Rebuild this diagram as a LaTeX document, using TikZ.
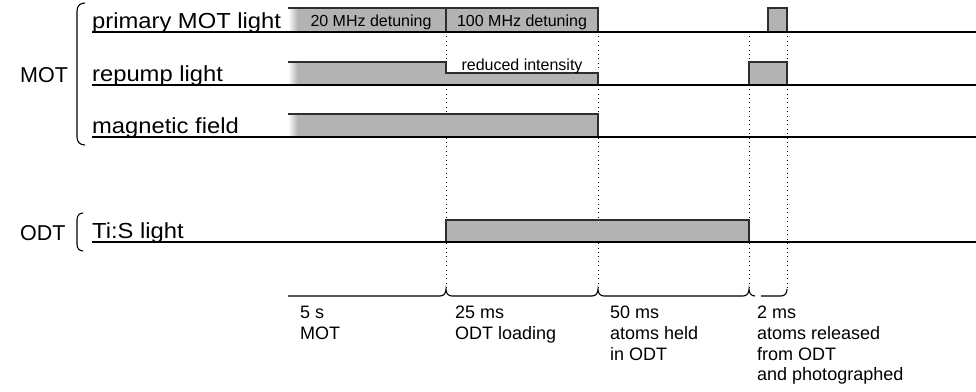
\documentclass[tikz,border=0pt]{standalone}
\usepackage{fontspec}
\setmainfont{Liberation Sans}
\newfontfamily\lblfont[FakeStretch=1.09]{Liberation Sans}
\definecolor{boxgray}{RGB}{179,179,179}
\definecolor{edgegray}{RGB}{45,45,45}
\begin{document}
\begin{tikzpicture}[x=1pt,y=-1pt,
  lbl/.style={font=\lblfont\fontsize{21.8}{26}\selectfont, anchor=base west, inner sep=0pt},
  grp/.style={font=\fontsize{21.5}{25}\selectfont, anchor=base west, inner sep=0pt},
  intxt/.style={font=\fontsize{16}{19}\selectfont, anchor=base, inner sep=0pt},
  bt/.style={font=\fontsize{18}{21}\selectfont, anchor=base west, inner sep=0pt},
  dotline/.style={line width=0.8pt, dash pattern=on 0.8pt off 3.6pt},
  boxedge/.style={draw=edgegray, line width=1.4pt},
  baseln/.style={line width=1.2pt, black},
  bracel/.style={line width=1.1pt, black}]
\useasboundingbox (0,0) rectangle (976,391);

% dotted time markers
\coordinate (d1t) at (446,32); \coordinate (d1b) at (446,289);
\coordinate (d2t) at (598,32); \coordinate (d2b) at (598,289);
\coordinate (d3t) at (749,32); \coordinate (d3b) at (749,289);
\coordinate (d4t) at (787,32); \coordinate (d4b) at (787,289);
\draw[dotline] (d1t) -- (d1b);
\draw[dotline] (d2t) -- (d2b);
\draw[dotline] (d3t) -- (d3b);
\draw[dotline] (d4t) -- (d4b);

% primary MOT light
\fill[boxgray] (297,8) rectangle (598,32);
\shade[left color=white, right color=boxgray] (288,8) rectangle (297.5,32);
\draw[boxedge] (288,8) -- (598,8) -- (598,32);
\draw[boxedge] (446,8) -- (446,32);
\filldraw[boxgray, boxedge] (768,32) -- (768,8) -- (787,8) -- (787,32);

% repump light
\fill[boxgray] (297,62) rectangle (446,85);
\fill[boxgray] (446,73) rectangle (598,85);
\shade[left color=white, right color=boxgray] (288,62) rectangle (297.5,85);
\draw[boxedge] (288,62) -- (446,62) -- (446,73) -- (598,73) -- (598,85);
\filldraw[boxgray, boxedge] (749,85) -- (749,62) -- (787,62) -- (787,85);

% magnetic field
\fill[boxgray] (297,114) rectangle (598,137);
\shade[left color=white, right color=boxgray] (288,114) rectangle (297.5,137);
\draw[boxedge] (288,114) -- (598,114) -- (598,137);

% Ti:S light
\filldraw[boxgray, boxedge] (446,242) -- (446,220) -- (749,220) -- (749,242);

% base lines
\draw[baseln] (92,32) -- (976,32);
\draw[baseln] (92,85) -- (976,85);
\draw[baseln] (92,137) -- (976,137);
\draw[baseln] (92,242) -- (976,242);

% texts in boxes
\node[intxt] (det20) at (371,26.5) {20 MHz detuning};
\node[intxt] (det100) at (522,26.5) {100 MHz detuning};
\node[intxt] (redint) at (522,70) {reduced intensity};

% channel labels
\node[lbl] (pml) at (92,28.3) {primary MOT light};
\node[lbl] (rpl) at (92,81.3) {repump light};
\node[lbl] (mfl) at (92,133.3) {magnetic field};
\node[lbl] (tsl) at (92,238.3) {Ti:S light};

% group labels and brackets
\node[grp] (motg) at (20,82.5) {MOT};
\node[grp] (odtg) at (20,240) {ODT};
\draw[bracel] (85,3) .. controls (80,3) and (77,6) .. (77,11) -- (77,137) .. controls (77,142) and (80,145) .. (85,145);
\draw[bracel] (83,213) .. controls (79,213) and (77,216) .. (77,220) -- (77,244) .. controls (77,248) and (79,251) .. (83,251);

% time braces
\draw[bracel] (288,296) -- (440,296) .. controls (444,296) and (446,293) .. (d1b)
  .. controls (446,293) and (448,296) .. (452,296) -- (592,296)
  .. controls (596,296) and (598,293) .. (d2b)
  .. controls (598,293) and (600,296) .. (604,296) -- (743,296)
  .. controls (747,296) and (749,293) .. (d3b)
  .. controls (749,293) and (751,296) .. (755,296);
\draw[bracel] (761,296) -- (781,296) .. controls (785,296) and (787,293) .. (d4b);

% duration labels
\node[bt] (t1a) at (300,318) {5 s};
\node[bt] (t1b) at (300,339) {MOT};
\node[bt] (t2a) at (455,318) {25 ms};
\node[bt] (t2b) at (455,339) {ODT loading};
\node[bt] (t3a) at (610,318) {50 ms};
\node[bt] (t3b) at (610,339) {atoms held};
\node[bt] (t3c) at (610,360) {in ODT};
\node[bt] (t4a) at (757,318) {2 ms};
\node[bt] (t4b) at (757,339) {atoms released};
\node[bt] (t4c) at (757,360) {from ODT};
\node[bt] (t4d) at (757,380.5) {and photographed};
\end{tikzpicture}
\end{document}
